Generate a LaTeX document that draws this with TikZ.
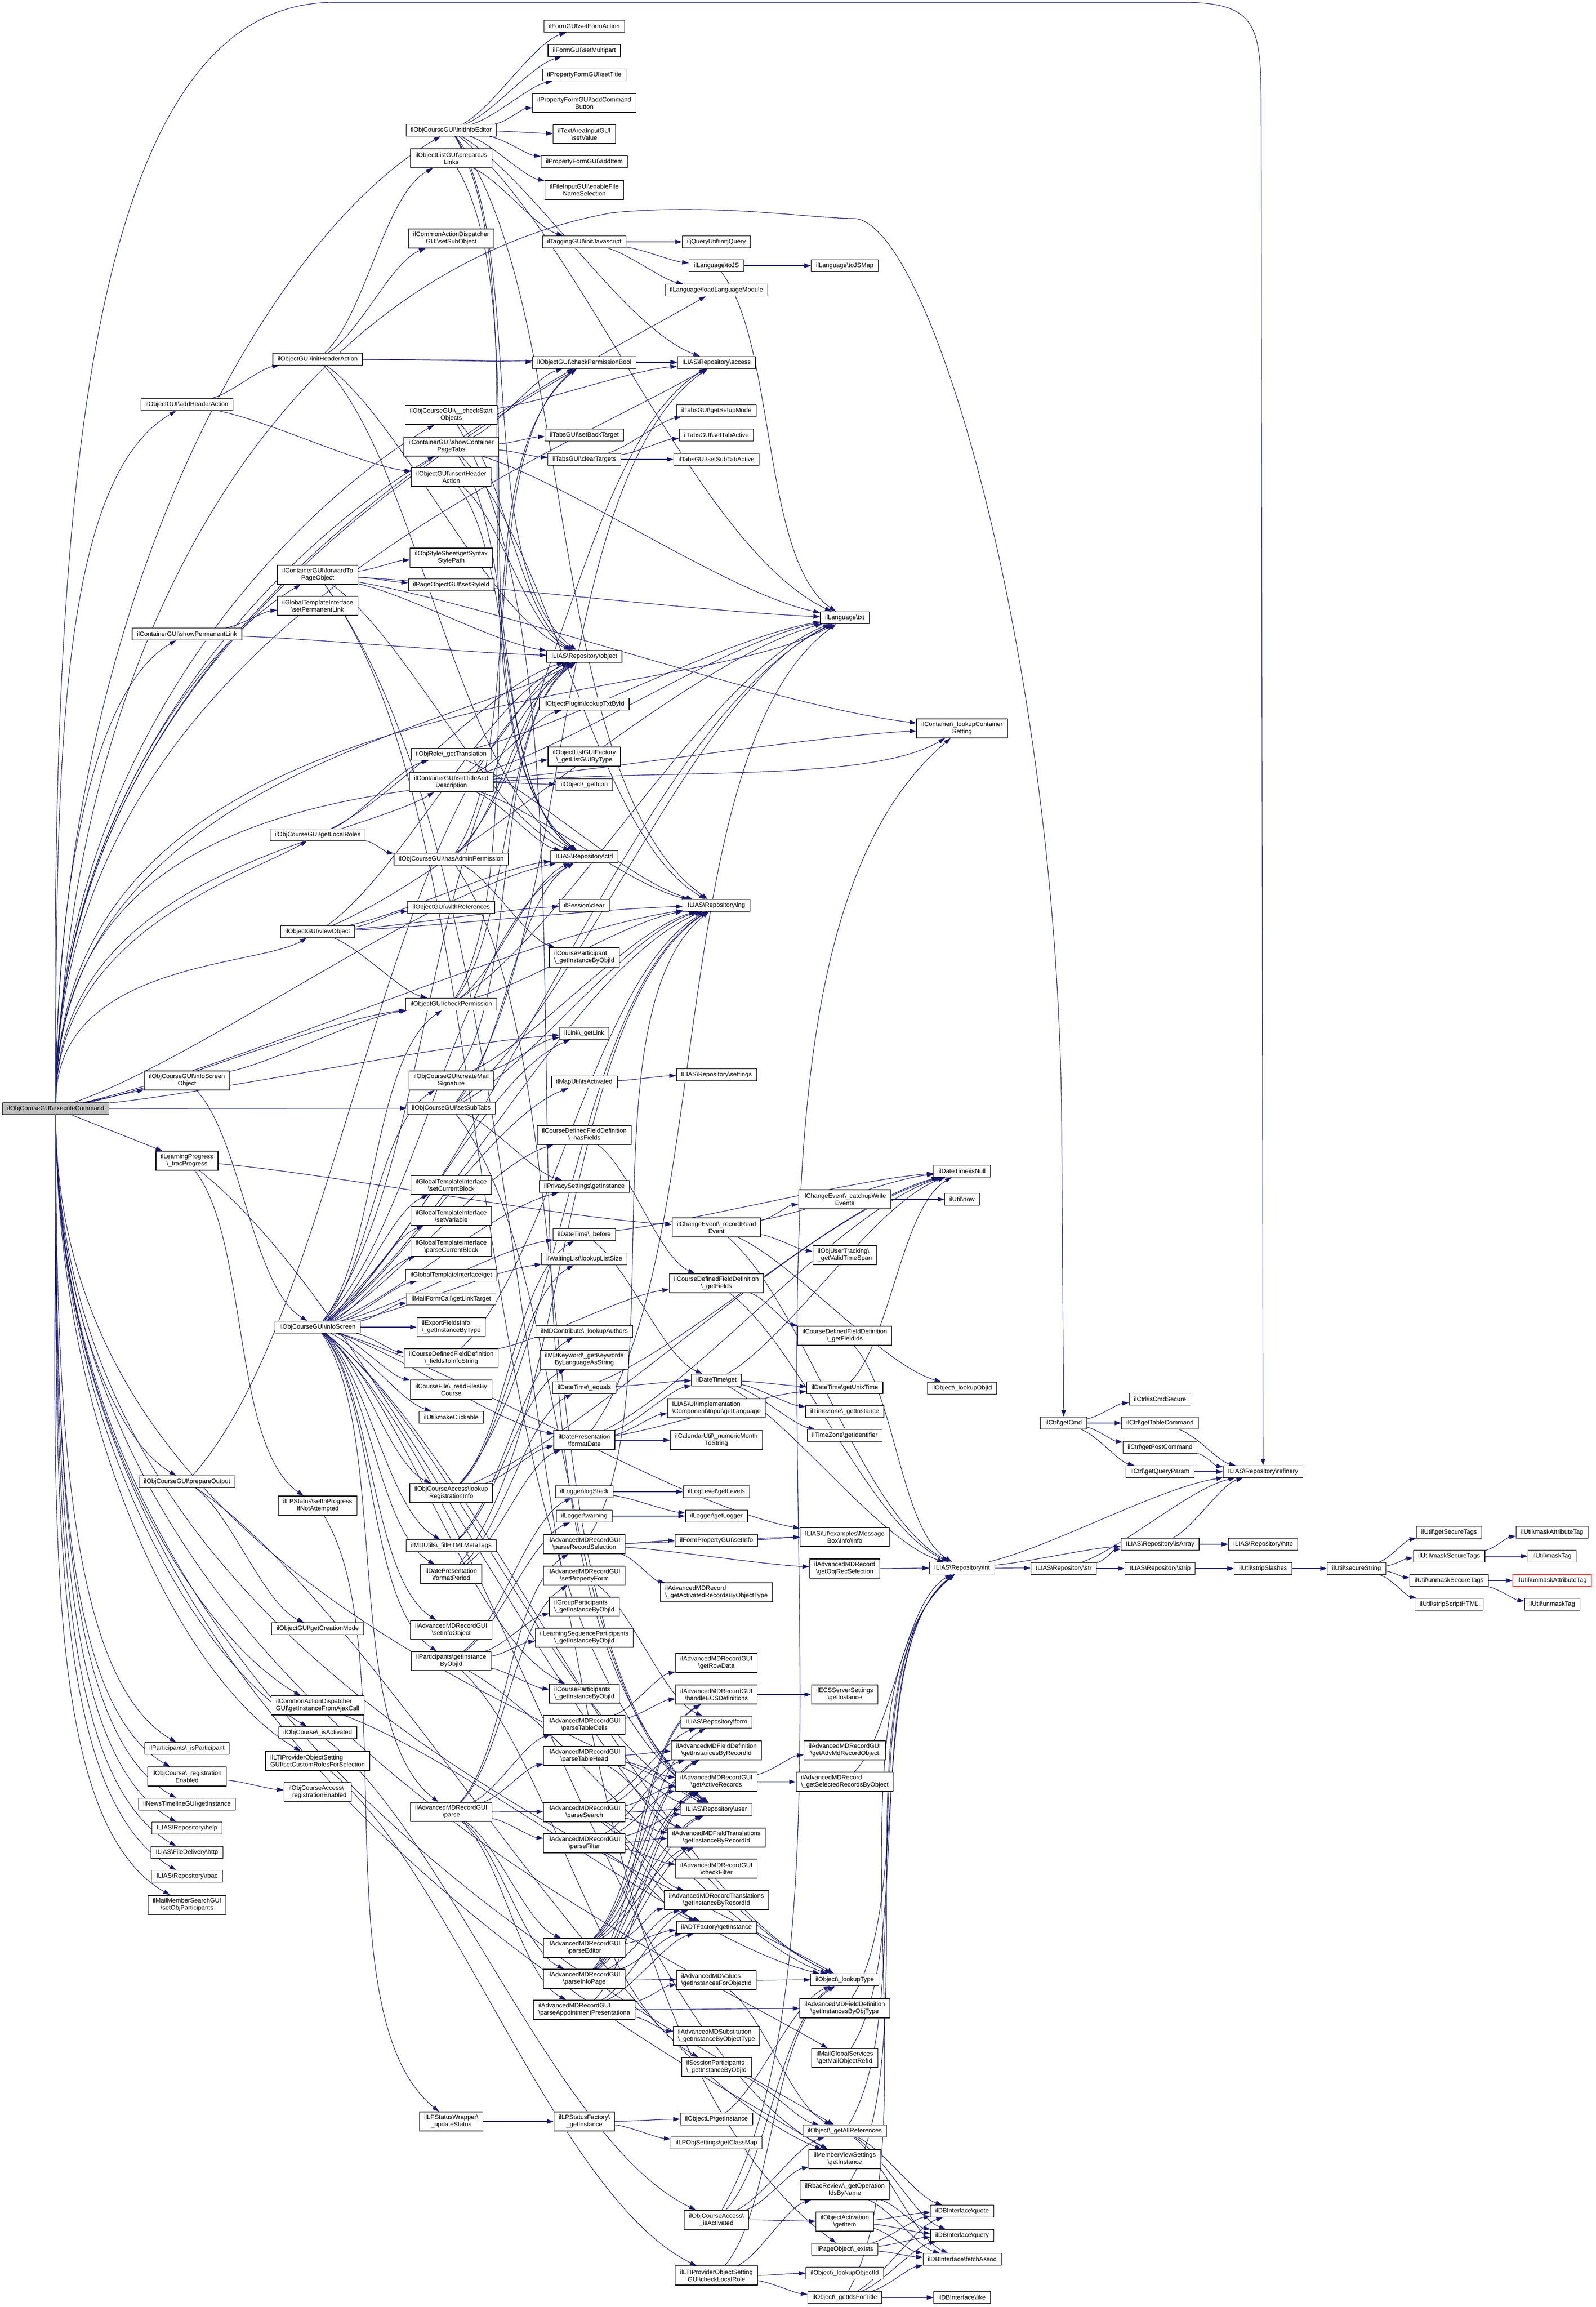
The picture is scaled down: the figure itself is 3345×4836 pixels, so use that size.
\documentclass[tikz,border=0pt]{standalone}
\usepackage{fontspec}
\setmainfont{Liberation Sans}
\usetikzlibrary{arrows.meta,calc}
\definecolor{eblue}{RGB}{25,25,112}
\definecolor{mgray}{RGB}{191,191,191}
\newcommand\bs{\textbackslash}
\newcommand\fs{\fontsize{3.3}{3.75}\selectfont}
\pgfdeclarelayer{edges}
\pgfsetlayers{edges,main}
\tikzset{
 nd/.style={draw=black, line width=0.3pt, fill=white, font=\fs, align=center, inner xsep=2.5pt, inner ysep=0.75pt, minimum height=6.25pt},
 n2/.style={nd, minimum height=10pt},
 nl/.style={n2, align=left},
 e/.style={draw=eblue, line width=0.28pt, -{Triangle[length=3.5pt,width=2.3pt]}},
}
\newcommand\EE[2]{\draw[e] let \p1=(#1), \p2=(#2), \n1={atan2((\y2)-(\y1),(\x2)-(\x1))}, \n2={180+0.5*\n1}, \n3={0.75*\n1} in (#1) to[out=\n3, in=\n2, looseness=0.65] (#2);}
\newcommand\EMu[1]{\draw[e] (m) to[out=90,in=210,out looseness=1.2,in looseness=0.5] (#1);}
\newcommand\EMd[1]{\draw[e] (m) to[out=270,in=150,out looseness=1.2,in looseness=0.5] (#1);}
\newcommand\EMs[1]{\draw[e] (m) -- (#1);}
\begin{document}
\begin{tikzpicture}[x=0.25pt,y=-0.25pt]
\useasboundingbox (0,0) rectangle (3345,4836);
\begin{pgfonlayer}{edges}\fill[white] (0,0) rectangle (3345,4836);\end{pgfonlayer}
% col1
\node[nd,fill=mgray] (m) at (117,2324) {ilObjCourseGUI\bs executeCommand};
% col2
\node[nd] (addHA) at (392,848) {ilObjectGUI\bs addHeaderAction};
\node[nd] (showPL) at (392,1329) {ilContainerGUI\bs showPermanentLink};
\node[n2] (isObj) at (392,2265) {ilObjCourseGUI\bs infoScreen\\Object};
\node[n2] (trac) at (392,2433) {ilLearningProgress\\\bs\_tracProgress};
\node[nd] (prepOut) at (392,3106) {ilObjCourseGUI\bs prepareOutput};
\node[nd] (isPart) at (392,3665) {ilParticipants\bs\_isParticipant};
\node[n2] (regEn) at (392,3724) {ilObjCourse\bs\_registration\\Enabled};
\node[nd] (news) at (392,3782) {ilNewsTimelineGUI\bs getInstance};
\node[nd] (help) at (392,3832) {ILIAS\bs Repository\bs help};
\node[nd] (fdhttp) at (392,3883) {ILIAS\bs FileDelivery\bs http};
\node[nd] (rbac) at (392,3933) {ILIAS\bs Repository\bs rbac};
\node[n2] (setObjP) at (392,3993) {ilMailMemberSearchGUI\\\bs setObjParticipants};
% col3
\node[nd] (initHA) at (666,753) {ilObjectGUI\bs initHeaderAction};
\node[n2] (fwdPO) at (666,1205) {ilContainerGUI\bs forwardTo\\PageObject};
\node[n2] (setPL) at (666,1270) {ilGlobalTemplateInterface\\\bs setPermanentLink};
\node[nd] (getLR) at (666,1750) {ilObjCourseGUI\bs getLocalRoles};
\node[nd] (viewObj) at (666,1953) {ilObjectGUI\bs viewObject};
\node[nd] (infoS) at (666,2782) {ilObjCourseGUI\bs infoScreen};
\node[n2] (setInProg) at (666,3156) {ilLPStatus\bs setInProgress\\IfNotAttempted};
\node[nd] (getCM) at (666,3414) {ilObjectGUI\bs getCreationMode};
\node[nl] (ajax) at (666,3575) {ilCommonActionDispatcher\\GUI\bs getInstanceFromAjaxCall};
\node[nd] (isAct) at (666,3632) {ilObjCourse\bs\_isActivated};
\node[nl] (custRoles) at (666,3691) {ilLTIProviderObjectSetting\\GUI\bs setCustomRolesForSelection};
\node[nl] (caRegEn) at (666,3757) {ilObjCourseAccess\bs\\\_registrationEnabled};
% col4
\node[nd] (initIE) at (946,273) {ilObjCourseGUI\bs initInfoEditor};
\node[n2] (prepJS) at (946,332) {ilObjectListGUI\bs prepareJs\\Links};
\node[n2] (setSubObj) at (946,500) {ilCommonActionDispatcher\\GUI\bs setSubObject};
\node[n2] (chkStart) at (946,870) {ilObjCourseGUI\bs\_\_checkStart\\Objects};
\node[n2] (showCPT) at (946,936) {ilContainerGUI\bs showContainer\\PageTabs};
\node[n2] (insHA) at (946,1000) {ilObjectGUI\bs insertHeader\\Action};
\node[n2] (getSSP) at (946,1169) {ilObjStyleSheet\bs getSyntax\\StylePath};
\node[nd] (setStyleId) at (946,1226) {ilPageObjectGUI\bs setStyleId};
\node[nd] (getTransl) at (946,1581) {ilObjRole\bs\_getTranslation};
\node[n2] (setTAD) at (946,1640) {ilContainerGUI\bs setTitleAnd\\Description};
\node[nd] (hasAdmin) at (946,1801) {ilObjCourseGUI\bs hasAdminPermission};
\node[nd] (withRef) at (946,1902) {ilObjectGUI\bs withReferences};
\node[nd] (chkPerm) at (946,2105) {ilObjectGUI\bs checkPermission};
\node[n2] (mailSig) at (946,2265) {ilObjCourseGUI\bs createMail\\Signature};
\node[nd] (setSubTabs) at (946,2323) {ilObjCourseGUI\bs setSubTabs};
\node[n2] (setCB) at (946,2484) {ilGlobalTemplateInterface\\\bs setCurrentBlock};
\node[n2] (setVar) at (946,2549) {ilGlobalTemplateInterface\\\bs setVariable};
\node[n2] (parseCB) at (946,2614) {ilGlobalTemplateInterface\\\bs parseCurrentBlock};
\node[nd] (gtiGet) at (946,2673) {ilGlobalTemplateInterface\bs get};
\node[nd] (mailLT) at (946,2723) {ilMailFormCall\bs getLinkTarget};
\node[nl] (expF) at (946,2782) {ilExportFieldsInfo\\\bs\_getInstanceByType};
\node[n2] (fieldsTIS) at (946,2847) {ilCourseDefinedFieldDefinition\\\bs\_fieldsToInfoString};
\node[n2] (readFiles) at (946,2913) {ilCourseFile\bs\_readFilesBy\\Course};
\node[nd] (makeClick) at (946,2971) {ilUtil\bs makeClickable};
\node[n2] (lookupRI) at (946,3130) {ilObjCourseAccess\bs lookup\\RegistrationInfo};
\node[nd] (fillMeta) at (946,3240) {ilMDUtils\bs\_fillHTMLMetaTags};
\node[n2] (fmtPeriod) at (946,3300) {ilDatePresentation\\\bs formatPeriod};
\node[n2] (setInfoObj) at (946,3417) {ilAdvancedMDRecordGUI\\\bs setInfoObject};
\node[n2] (partGI) at (946,3482) {ilParticipants\bs getInstance\\ByObjId};
\node[n2] (parse) at (946,3798) {ilAdvancedMDRecordGUI\\\bs parse};
\node[n2] (updStatus) at (946,4447) {ilLPStatusWrapper\bs\\\_updateStatus};
% col5
\node[nd] (setFA) at (1225,55) {ilFormGUI\bs setFormAction};
\node[nd] (setMP) at (1225,106) {ilFormGUI\bs setMultipart};
\node[nd] (setTitle) at (1225,157) {ilPropertyFormGUI\bs setTitle};
\node[n2] (addCB) at (1225,216) {ilPropertyFormGUI\bs addCommand\\Button};
\node[n2] (setValue) at (1225,281) {ilTextAreaInputGUI\\\bs setValue};
\node[nd] (addItem) at (1225,339) {ilPropertyFormGUI\bs addItem};
\node[n2] (enableFNS) at (1225,398) {ilFileInputGUI\bs enableFile\\NameSelection};
\node[nd] (initJSt) at (1225,507) {ilTaggingGUI\bs initJavascript};
\node[nd] (chkPB) at (1225,760) {ilObjectGUI\bs checkPermissionBool};
\node[nd] (setBT) at (1225,912) {ilTabsGUI\bs setBackTarget};
\node[nd] (clearT) at (1225,963) {ilTabsGUI\bs clearTargets};
\node[nd] (robject) at (1225,1376) {ILIAS\bs Repository\bs object};
\node[nd] (lookupTxt) at (1225,1476) {ilObjectPlugin\bs lookupTxtById};
\node[n2] (listGUI) at (1225,1586) {ilObjectListGUIFactory\\\bs\_getListGUIByType};
\node[nd] (getIcon) at (1225,1645) {ilObject\bs\_getIcon};
\node[nd] (rctrl) at (1225,1796) {ILIAS\bs Repository\bs ctrl};
\node[nd] (sessClear) at (1225,1898) {ilSession\bs clear};
\node[nl] (cpart) at (1225,2007) {ilCourseParticipant\\\bs\_getInstanceByObjId};
\node[nd] (getLink) at (1225,2166) {ilLink\bs\_getLink};
\node[nd] (mapAct) at (1225,2268) {ilMapUtil\bs isActivated};
\node[n2] (hasFields) at (1225,2379) {ilCourseDefinedFieldDefinition\\\bs\_hasFields};
\node[nd] (privacy) at (1225,2487) {ilPrivacySettings\bs getInstance};
\node[nd] (dtBefore) at (1225,2588) {ilDateTime\bs\_before};
\node[nd] (wlSize) at (1225,2639) {ilWaitingList\bs lookupListSize};
\node[nd] (mdAuth) at (1225,2791) {ilMDContribute\bs\_lookupAuthors};
\node[n2] (mdKey) at (1225,2850) {ilMDKeyword\bs\_getKeywords\\ByLanguageAsString};
\node[nd] (dtEquals) at (1225,2909) {ilDateTime\bs\_equals};
\node[n2] (fmtDate) at (1225,3019) {ilDatePresentation\\\bs formatDate};
\node[nd] (logStack) at (1225,3127) {ilLogger\bs logStack};
\node[nd] (logWarn) at (1225,3178) {ilLogger\bs warning};
\node[n2] (parseRS) at (1225,3237) {ilAdvancedMDRecordGUI\\\bs parseRecordSelection};
\node[n2] (setPF) at (1225,3303) {ilAdvancedMDRecordGUI\\\bs setPropertyForm};
\node[nl] (grpPart) at (1225,3368) {ilGroupParticipants\\\bs\_getInstanceByObjId};
\node[n2] (lsPart) at (1225,3433) {ilLearningSequenceParticipants\\\bs\_getInstanceByObjId};
\node[nl] (crsPart) at (1225,3550) {ilCourseParticipants\\\bs\_getInstanceByObjId};
\node[n2] (pTC) at (1225,3616) {ilAdvancedMDRecordGUI\\\bs parseTableCells};
\node[n2] (pTH) at (1225,3681) {ilAdvancedMDRecordGUI\\\bs parseTableHead};
\node[n2] (pSearch) at (1225,3799) {ilAdvancedMDRecordGUI\\\bs parseSearch};
\node[n2] (pFilter) at (1225,3864) {ilAdvancedMDRecordGUI\\\bs parseFilter};
\node[n2] (pEditor) at (1225,4083) {ilAdvancedMDRecordGUI\\\bs parseEditor};
\node[n2] (pInfo) at (1225,4148) {ilAdvancedMDRecordGUI\\\bs parseInfoPage};
\node[nl] (pApp) at (1225,4213) {ilAdvancedMDRecordGUI\\\bs parseAppointmentPresentationa};
\node[n2] (lpsf) at (1225,4447) {ilLPStatusFactory\bs\\\_getInstance};
% col6
\node[nd] (jq) at (1502,507) {iljQueryUtil\bs initjQuery};
\node[nd] (toJS) at (1502,557) {ilLanguage\bs toJS};
\node[nd] (loadLM) at (1502,608) {ilLanguage\bs loadLanguageModule};
\node[nd] (raccess) at (1502,760) {ILIAS\bs Repository\bs access};
\node[nd] (getSM) at (1502,861) {ilTabsGUI\bs getSetupMode};
\node[nd] (setTA) at (1502,912) {ilTabsGUI\bs setTabActive};
\node[nd] (setSTA) at (1502,963) {ilTabsGUI\bs setSubTabActive};
\node[nd] (rlng) at (1502,1898) {ILIAS\bs Repository\bs lng};
\node[nd] (rsettings) at (1502,2253) {ILIAS\bs Repository\bs settings};
\node[n2] (recRead) at (1502,2573) {ilChangeEvent\bs\_recordRead\\Event};
\node[n2] (getFields) at (1502,2690) {ilCourseDefinedFieldDefinition\\\bs\_getFields};
\node[nd] (dtGet) at (1502,2893) {ilDateTime\bs get};
\node[nl] (getLang) at (1502,2952) {ILIAS\bs UI\bs Implementation\\\bs Component\bs Input\bs getLanguage};
\node[n2] (numMonth) at (1502,3019) {ilCalendarUtil\bs\_numericMonth\\ToString};
\node[nd] (getLevels) at (1502,3127) {ilLogLevel\bs getLevels};
\node[nd] (getLogger) at (1502,3178) {ilLogger\bs getLogger};
\node[nd] (setInfo) at (1502,3229) {ilFormPropertyGUI\bs setInfo};
\node[nl] (getActRec) at (1502,3338) {ilAdvancedMDRecord\\\bs\_getActivatedRecordsByObjectType};
\node[n2] (getRowData) at (1502,3486) {ilAdvancedMDRecordGUI\\\bs getRowData};
\node[n2] (handleECS) at (1502,3552) {ilAdvancedMDRecordGUI\\\bs handleECSDefinitions};
\node[nd] (rform) at (1502,3610) {ILIAS\bs Repository\bs form};
\node[n2] (fdByRec) at (1502,3669) {ilAdvancedMDFieldDefinition\\\bs getInstancesByRecordId};
\node[n2] (activeRec) at (1502,3735) {ilAdvancedMDRecordGUI\\\bs getActiveRecords};
\node[nd] (ruser) at (1502,3793) {ILIAS\bs Repository\bs user};
\node[n2] (fieldTr) at (1502,3852) {ilAdvancedMDFieldTranslations\\\bs getInstanceByRecordId};
\node[n2] (checkFilter) at (1502,3917) {ilAdvancedMDRecordGUI\\\bs checkFilter};
\node[n2] (recTr) at (1502,3983) {ilAdvancedMDRecordTranslations\\\bs getInstanceByRecordId};
\node[nd] (adt) at (1502,4040) {ilADTFactory\bs getInstance};
\node[nl] (advVal) at (1502,4151) {ilAdvancedMDValues\\\bs getInstancesForObjectId};
\node[nl] (subst) at (1502,4268) {ilAdvancedMDSubstitution\\\bs\_getInstanceByObjectType};
\node[nl] (sessPart) at (1502,4333) {ilSessionParticipants\\\bs\_getInstanceByObjId};
\node[nd] (objLP) at (1502,4442) {ilObjectLP\bs getInstance};
\node[nd] (lpObjSet) at (1502,4492) {ilLPObjSettings\bs getClassMap};
\node[n2] (caIsAct) at (1502,4653) {ilObjCourseAccess\bs\\\_isActivated};
\node[n2] (chkLR) at (1502,4770) {ilLTIProviderObjectSetting\\GUI\bs checkLocalRole};
% col7
\node[nd] (toJSMap) at (1771,557) {ilLanguage\bs toJSMap};
\node[nd] (ltxt) at (1771,1295) {ilLanguage\bs txt};
\node[n2] (catchup) at (1771,2514) {ilChangeEvent\bs\_catchupWrite\\Events};
\node[nl] (validTS) at (1771,2631) {ilObjUserTracking\bs\\\_getValidTimeSpan};
\node[n2] (getFieldIds) at (1771,2800) {ilCourseDefinedFieldDefinition\\\bs\_getFieldIds};
\node[nd] (unixTime) at (1771,2909) {ilDateTime\bs getUnixTime};
\node[nd] (tzInst) at (1771,2959) {ilTimeZone\bs\_getInstance};
\node[nd] (tzId) at (1771,3009) {ilTimeZone\bs getIdentifier};
\node[n2] (msgInfo) at (1771,3222) {ILIAS\bs UI\bs examples\bs Message\\Box\bs Info\bs info};
\node[n2] (objRecSel) at (1771,3288) {ilAdvancedMDRecord\\\bs getObjRecSelection};
\node[n2] (ecs) at (1771,3552) {ilECSServerSettings\\\bs getInstance};
\node[n2] (advMdRecObj) at (1771,3669) {ilAdvancedMDRecordGUI\\\bs getAdvMdRecordObject};
\node[nl] (selRec) at (1771,3735) {ilAdvancedMDRecord\\\bs\_getSelectedRecordsByObject};
\node[nd] (lookupType) at (1771,4150) {ilObject\bs\_lookupType};
\node[n2] (fdByObjType) at (1771,4210) {ilAdvancedMDFieldDefinition\\\bs getInstancesByObjType};
\node[n2] (mailRef) at (1771,4314) {ilMailGlobalServices\\\bs getMailObjectRefId};
\node[nd] (allRefs) at (1771,4467) {ilObject\bs\_getAllReferences};
\node[n2] (mvs) at (1771,4526) {ilMemberViewSettings\\\bs getInstance};
\node[n2] (rbacOps) at (1771,4591) {ilRbacReview\bs\_getOperation\\IdsByName};
\node[n2] (actItem) at (1771,4657) {ilObjectActivation\\\bs getItem};
\node[nd] (pageExists) at (1771,4715) {ilPageObject\bs\_exists};
\node[nd] (lookupObjectId) at (1771,4765) {ilObject\bs\_lookupObjectId};
\node[nd] (idsForTitle) at (1771,4816) {ilObject\bs\_getIdsForTitle};
% col8
\node[n2] (contSetting) at (2017,1527) {ilContainer\bs\_lookupContainer\\Setting};
\node[nd] (isNull) at (2017,2455) {ilDateTime\bs isNull};
\node[nd] (now) at (2017,2514) {ilUtil\bs now};
\node[nd] (lookupObjId) at (2017,2910) {ilObject\bs\_lookupObjId};
\node[nd] (rint) at (2017,3287) {ILIAS\bs Repository\bs int};
\node[nd] (quote) at (2017,4635) {ilDBInterface\bs quote};
\node[nd] (query) at (2017,4686) {ilDBInterface\bs query};
\node[nd] (fetch) at (2017,4736) {ilDBInterface\bs fetchAssoc};
\node[nd] (like) at (2017,4816) {ilDBInterface\bs like};
% right part
\node[nd] (getCmd) at (2230,2983) {ilCtrl\bs getCmd};
\node[nd] (rstr) at (2230,3288) {ILIAS\bs Repository\bs str};
\node[nd] (isCmdSecure) at (2432,2933) {ilCtrl\bs isCmdSecure};
\node[nd] (getTC) at (2432,2983) {ilCtrl\bs getTableCommand};
\node[nd] (getPC) at (2432,3034) {ilCtrl\bs getPostCommand};
\node[nd] (getQP) at (2432,3085) {ilCtrl\bs getQueryParam};
\node[nd] (isArray) at (2432,3237) {ILIAS\bs Repository\bs isArray};
\node[nd] (strip) at (2432,3288) {ILIAS\bs Repository\bs strip};
\node[nd] (refinery) at (2648,3085) {ILIAS\bs Repository\bs refinery};
\node[nd] (rhttp) at (2648,3237) {ILIAS\bs Repository\bs http};
\node[nd] (stripSl) at (2648,3288) {ilUtil\bs stripSlashes};
\node[nd] (secStr) at (2844,3288) {ilUtil\bs secureString};
\node[nd] (getST) at (3038,3212) {ilUtil\bs getSecureTags};
\node[nd] (maskST) at (3038,3262) {ilUtil\bs maskSecureTags};
\node[nd] (unmaskST) at (3038,3313) {ilUtil\bs unmaskSecureTags};
\node[nd] (stripSH) at (3038,3363) {ilUtil\bs stripScriptHTML};
\node[nd] (maskAT) at (3254,3212) {ilUtil\bs maskAttributeTag};
\node[nd] (maskTag) at (3254,3262) {ilUtil\bs maskTag};
\node[nd,draw=red] (unmaskAT) at (3254,3313) {ilUtil\bs unmaskAttributeTag};
\node[nd] (unmaskTag) at (3254,3363) {ilUtil\bs unmaskTag};

\begin{pgfonlayer}{edges}
% main fan
\EMu{addHA}\EMu{showPL}\EMs{isObj}\EMs{trac}
\EMu{initIE}\EMu{fwdPO}\EMu{getLR}\EMu{viewObj}\EMu{chkStart}\EMu{showCPT}\EMu{setTAD}
\EE{m}{chkPerm}\EMs{setSubTabs}
\EMu{robject}\EE{m}{rctrl}\EE{m}{rlng}\EMu{raccess}\EMu{chkPB}\EMu{ltxt}\EE{m}{getLink}\EMu{loadLM}\EMu{contSetting}
\EMd{prepOut}\EMd{isPart}\EMd{regEn}\EMd{news}\EMd{help}\EMd{fdhttp}\EMd{rbac}\EMd{setObjP}
\EMd{ajax}\EMd{isAct}\EMd{custRoles}\EMd{lookupType}\EMd{mvs}\EMd{ruser}\EMd{allRefs}\EMd{mailRef}
\draw[e] (m) .. controls (105,1100) and (170,5) .. (700,5) -- (2480,5) .. controls (2644,5) and (2644,60) .. (2644,250) -- (refinery);
\draw[e] (m) .. controls (150,1250) and (650,560) .. (1283,446) .. controls (1500,425) and (1700,458) .. (1789,458) .. controls (1950,458) and (2226,1400) .. (2226,2400) -- (getCmd);
% col2/3
\EE{addHA}{initHA}\EE{addHA}{insHA}
\EE{showPL}{setPL}\EE{showPL}{robject}
\EE{isObj}{infoS}\EE{isObj}{chkPerm}
\EE{trac}{setInProg}\EE{trac}{recRead}\EE{trac}{lookupType}
\EE{prepOut}{getCM}\EE{prepOut}{robject}\EE{prepOut}{mvs}
\EE{setInProg}{updStatus}\EE{updStatus}{lpsf}\EE{lpsf}{objLP}\EE{lpsf}{lpObjSet}\EE{objLP}{lookupType}
\EE{ajax}{lookupType}\EE{isAct}{caIsAct}\EE{custRoles}{chkLR}\EE{regEn}{caRegEn}
\EE{initHA}{prepJS}\EE{initHA}{setSubObj}\EE{initHA}{chkPB}\EE{initHA}{raccess}\EE{initHA}{robject}\EE{initHA}{rctrl}
\EE{prepJS}{initJSt}\EE{prepJS}{rctrl}
\EE{fwdPO}{getSSP}\EE{fwdPO}{setStyleId}\EE{fwdPO}{pageExists}\EE{fwdPO}{robject}\EE{fwdPO}{rctrl}\EE{fwdPO}{ruser}\EE{fwdPO}{contSetting}\EE{fwdPO}{ltxt}
\EE{getLR}{getTransl}\EE{getLR}{hasAdmin}\EE{getLR}{robject}
\EE{viewObj}{withRef}\EE{viewObj}{chkPerm}\EE{viewObj}{robject}\EE{viewObj}{rctrl}\EE{viewObj}{rlng}\EE{viewObj}{sessClear}\EE{viewObj}{ltxt}
% infoScreen
\EE{infoS}{setCB}\EE{infoS}{setVar}\EE{infoS}{parseCB}\EE{infoS}{gtiGet}\EE{infoS}{mailLT}\EE{infoS}{expF}
\EE{infoS}{fieldsTIS}\EE{infoS}{readFiles}\EE{infoS}{makeClick}\EE{infoS}{lookupRI}\EE{infoS}{fillMeta}\EE{infoS}{fmtPeriod}
\EE{infoS}{setInfoObj}\EE{infoS}{partGI}\EE{infoS}{parse}\EE{infoS}{robject}\EE{infoS}{rctrl}\EE{infoS}{rlng}
\EE{infoS}{ltxt}\EE{infoS}{chkPerm}\EE{infoS}{getLink}\EE{infoS}{mapAct}\EE{infoS}{hasFields}\EE{infoS}{privacy}
\EE{infoS}{dtBefore}\EE{infoS}{wlSize}\EE{infoS}{fmtDate}\EE{infoS}{mailSig}\EE{infoS}{crsPart}\EE{infoS}{lookupType}
\EE{infoS}{mvs}\EE{infoS}{ruser}\EE{infoS}{msgInfo}
% col4
\EE{initIE}{setFA}\EE{initIE}{setMP}\EE{initIE}{setTitle}\EE{initIE}{addCB}\EE{initIE}{setValue}\EE{initIE}{addItem}\EE{initIE}{enableFNS}
\EE{initIE}{rctrl}\EE{initIE}{ltxt}\EE{initIE}{rlng}\EE{initIE}{robject}\EE{initIE}{raccess}
\EE{chkStart}{raccess}\EE{chkStart}{robject}\EE{chkStart}{ruser}
\EE{showCPT}{setBT}\EE{showCPT}{clearT}\EE{showCPT}{chkPB}\EE{showCPT}{ltxt}\EE{showCPT}{rctrl}\EE{showCPT}{rlng}
\EE{insHA}{robject}\EE{insHA}{rctrl}
\EE{getTransl}{ltxt}\EE{getTransl}{rlng}
\EE{setTAD}{lookupTxt}\EE{setTAD}{listGUI}\EE{setTAD}{getIcon}\EE{setTAD}{contSetting}\EE{setTAD}{ltxt}\EE{setTAD}{robject}\EE{setTAD}{rlng}\EE{setTAD}{rctrl}
\EE{hasAdmin}{robject}\EE{hasAdmin}{cpart}\EE{hasAdmin}{raccess}\EE{hasAdmin}{ruser}\EE{hasAdmin}{chkPB}
\EE{chkPerm}{chkPB}\EE{chkPerm}{rctrl}\EE{chkPerm}{rlng}\EE{chkPerm}{ltxt}\EE{chkPerm}{robject}
\EE{mailSig}{rlng}\EE{mailSig}{getLink}\EE{mailSig}{robject}
\EE{setSubTabs}{rctrl}\EE{setSubTabs}{rlng}\EE{setSubTabs}{raccess}\EE{setSubTabs}{privacy}\EE{setSubTabs}{ltxt}\EE{setSubTabs}{ruser}
\EE{lookupRI}{dtBefore}\EE{lookupRI}{wlSize}\EE{lookupRI}{fmtDate}\EE{lookupRI}{rlng}\EE{lookupRI}{isNull}
\EE{fillMeta}{mdAuth}\EE{fillMeta}{mdKey}
\EE{fmtPeriod}{dtEquals}\EE{fmtPeriod}{fmtDate}\EE{fmtPeriod}{rlng}
\EE{partGI}{grpPart}\EE{partGI}{lsPart}\EE{partGI}{crsPart}\EE{partGI}{sessPart}\EE{partGI}{lookupType}\EE{partGI}{logStack}\EE{partGI}{logWarn}
\EE{parse}{parseRS}\EE{parse}{setPF}\EE{parse}{pTC}\EE{parse}{pTH}\EE{parse}{pSearch}\EE{parse}{pFilter}\EE{parse}{pEditor}\EE{parse}{pInfo}\EE{parse}{pApp}
\EE{fieldsTIS}{getFields}\EE{fieldsTIS}{rlng}\EE{hasFields}{getFields}
% col5
\EE{initJSt}{jq}\EE{initJSt}{toJS}\EE{initJSt}{loadLM}
\EE{toJS}{toJSMap}\EE{toJS}{ltxt}
\EE{chkPB}{raccess}
\EE{clearT}{getSM}\EE{clearT}{setTA}\EE{clearT}{setSTA}
\EE{mapAct}{rsettings}
\EE{dtBefore}{dtGet}\EE{dtBefore}{isNull}\EE{dtEquals}{dtGet}\EE{dtEquals}{isNull}
\EE{fmtDate}{dtGet}\EE{fmtDate}{getLang}\EE{fmtDate}{numMonth}\EE{fmtDate}{ltxt}\EE{fmtDate}{isNull}\EE{fmtDate}{unixTime}
\EE{logStack}{getLevels}\EE{logStack}{getLogger}\EE{logWarn}{getLogger}
\EE{parseRS}{setInfo}\EE{parseRS}{objRecSel}\EE{parseRS}{getActRec}\EE{parseRS}{rlng}\EE{parseRS}{msgInfo}
\EE{setPF}{rform}
\EE{pTC}{getRowData}\EE{pTC}{handleECS}
\EE{pTH}{fdByRec}\EE{pTH}{activeRec}\EE{pTH}{ruser}\EE{pTH}{fieldTr}
\EE{pSearch}{ruser}\EE{pSearch}{fieldTr}\EE{pSearch}{activeRec}\EE{pSearch}{fdByRec}\EE{pSearch}{adt}\EE{pSearch}{recTr}\EE{pSearch}{rform}
\EE{pFilter}{fieldTr}\EE{pFilter}{activeRec}\EE{pFilter}{ruser}\EE{pFilter}{adt}\EE{pFilter}{checkFilter}\EE{pFilter}{fdByRec}
\EE{pEditor}{adt}\EE{pEditor}{recTr}\EE{pEditor}{activeRec}\EE{pEditor}{fdByRec}\EE{pEditor}{ruser}\EE{pEditor}{fieldTr}\EE{pEditor}{rform}\EE{pEditor}{handleECS}
\EE{pInfo}{advVal}\EE{pInfo}{adt}\EE{pInfo}{activeRec}\EE{pInfo}{fdByRec}\EE{pInfo}{fieldTr}\EE{pInfo}{ruser}\EE{pInfo}{handleECS}\EE{pInfo}{recTr}
\EE{pApp}{fdByObjType}\EE{pApp}{subst}\EE{pApp}{advVal}\EE{pApp}{activeRec}\EE{pApp}{adt}\EE{pApp}{recTr}
% col6+
\EE{recRead}{catchup}\EE{recRead}{validTS}\EE{recRead}{lookupObjId}\EE{recRead}{rint}\EE{recRead}{isNull}
\EE{catchup}{now}
\EE{getFields}{getFieldIds}\EE{getFields}{rint}\EE{getFieldIds}{rint}
\EE{dtGet}{unixTime}\EE{dtGet}{tzInst}\EE{dtGet}{tzId}\EE{dtGet}{isNull}\EE{dtGet}{rint}
\EE{unixTime}{isNull}
\EE{setInfo}{msgInfo}\EE{objRecSel}{rint}\EE{handleECS}{ecs}
\EE{activeRec}{selRec}\EE{activeRec}{advMdRecObj}\EE{selRec}{rint}
\EE{advVal}{lookupType}\EE{advVal}{allRefs}\EE{sessPart}{allRefs}
\EE{fdByObjType}{rint}\EE{mailRef}{rint}
\EE{caIsAct}{actItem}\EE{caIsAct}{mvs}\EE{caIsAct}{allRefs}\EE{caIsAct}{lookupType}\EE{caIsAct}{contSetting}
\EE{chkLR}{lookupObjectId}\EE{chkLR}{idsForTitle}\EE{chkLR}{rbacOps}\EE{chkLR}{lookupType}
\EE{actItem}{quote}\EE{actItem}{query}\EE{actItem}{fetch}
\EE{pageExists}{quote}\EE{pageExists}{query}\EE{pageExists}{fetch}
\EE{allRefs}{quote}\EE{allRefs}{query}\EE{allRefs}{fetch}\EE{allRefs}{rint}
\EE{idsForTitle}{like}\EE{idsForTitle}{quote}\EE{idsForTitle}{query}\EE{idsForTitle}{fetch}\EE{idsForTitle}{rint}
\EE{rbacOps}{query}\EE{rbacOps}{fetch}\EE{rbacOps}{rint}
% right
\EE{rint}{rstr}\EE{rint}{isArray}\EE{rint}{refinery}
\EE{rstr}{isArray}\EE{rstr}{strip}\EE{rstr}{refinery}
\EE{isArray}{rhttp}\EE{isArray}{refinery}
\EE{strip}{stripSl}\EE{stripSl}{secStr}
\EE{secStr}{getST}\EE{secStr}{maskST}\EE{secStr}{unmaskST}\EE{secStr}{stripSH}
\EE{maskST}{maskAT}\EE{maskST}{maskTag}\EE{unmaskST}{unmaskAT}\EE{unmaskST}{unmaskTag}
\EE{getCmd}{isCmdSecure}\EE{getCmd}{getTC}\EE{getCmd}{getPC}\EE{getCmd}{getQP}
\EE{getTC}{refinery}\EE{getPC}{refinery}\EE{getQP}{refinery}
\end{pgfonlayer}
\end{tikzpicture}
\end{document}
